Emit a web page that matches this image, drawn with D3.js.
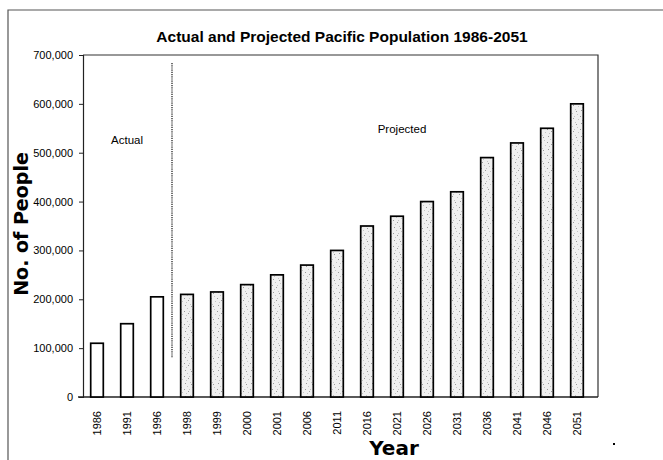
<!DOCTYPE html>
<html>
<head>
<meta charset="utf-8">
<script src="https://cdn.jsdelivr.net/npm/d3@7"></script>
<style>
  html, body { margin: 0; padding: 0; background: #fff; }
  svg { display: block; }
  text { font-family: "Liberation Sans", Arial, sans-serif; fill: #000; }
</style>
</head>
<body>
<svg id="chart" width="663" height="460"></svg>
<script>
// Census years and population (actual through 1996, projected afterwards)
const years = ["1986", "1991", "1996", "1998", "1999", "2000", "2001", "2006", "2011",
               "2016", "2021", "2026", "2031", "2036", "2041", "2046", "2051"];
const population = [110000, 150000, 205000, 210000, 215000, 230000, 250000, 270000, 300000,
                    350000, 370000, 400000, 420000, 490000, 520000, 550000, 600000];
const status = ["Actual", "Actual", "Actual", "Projected", "Projected", "Projected", "Projected",
                "Projected", "Projected", "Projected", "Projected", "Projected", "Projected",
                "Projected", "Projected", "Projected", "Projected"];
const yTicks = [0, 100000, 200000, 300000, 400000, 500000, 600000, 700000];

const svg = d3.select("#chart");

// Light grainy grey texture for projected bars
const defs = svg.append("defs");
const pat = defs.append("pattern")
  .attr("id", "stipple").attr("patternUnits", "userSpaceOnUse")
  .attr("width", 11).attr("height", 13);
pat.append("rect").attr("width", 11).attr("height", 13).attr("fill", "#f0f0f0");
[[1,1],[6,2],[3,5],[9,6],[0,9],[5,10],[8,12],[2,12],[10,3],[4,7]].forEach(([px, py], i) => {
  pat.append("rect").attr("x", px).attr("y", py).attr("width", 1).attr("height", 1)
    .attr("fill", i % 3 === 0 ? "#999" : "#c4c4c4");
});

// Outer frame
svg.append("path").attr("d", "M8,460V10H663")
  .attr("fill", "none").attr("stroke", "#555").attr("stroke-width", 1.2);

const plot = { left: 83, right: 598, top: 55, bottom: 397 };

const x = d3.scaleBand().domain(years).range([82, 592])
  .paddingInner(0.58).paddingOuter(0.29);
const y = d3.scaleLinear().domain([0, 700000]).range([plot.bottom, plot.top]);

// Plot border (top and right)
svg.append("path")
  .attr("d", `M${plot.left},${plot.top}H${plot.right}V${plot.bottom}`)
  .attr("fill", "none").attr("stroke", "#333").attr("stroke-width", 1.2);

// Y axis
const yAxis = svg.append("g").attr("transform", `translate(${plot.left},0)`)
  .call(d3.axisLeft(y).tickValues(yTicks).tickSize(4).tickPadding(6)
    .tickFormat(d => d3.format(",")(d)));
yAxis.select(".domain").attr("stroke", "#222").attr("stroke-width", 1.2);
yAxis.selectAll(".tick line").attr("stroke", "#222");
yAxis.selectAll("text").attr("font-size", 11);

// X axis (baseline) with rotated year labels
const xAxis = svg.append("g").attr("transform", `translate(0,${plot.bottom})`)
  .call(d3.axisBottom(x).tickSize(0).tickPadding(0));
xAxis.select(".domain").remove();
xAxis.selectAll("text")
  .attr("font-size", 11)
  .attr("transform", "rotate(-90)")
  .attr("text-anchor", "end")
  .attr("x", -14).attr("y", 0).attr("dy", "0.35em");
svg.append("line")
  .attr("x1", plot.left - 5).attr("x2", plot.right)
  .attr("y1", plot.bottom).attr("y2", plot.bottom)
  .attr("stroke", "#222").attr("stroke-width", 1.4);

// Bars
svg.append("g").selectAll("rect").data(years).join("rect")
  .attr("x", d => x(d))
  .attr("width", x.bandwidth())
  .attr("y", (d, i) => y(population[i]))
  .attr("height", (d, i) => y(0) - y(population[i]))
  .attr("fill", (d, i) => status[i] === "Projected" ? "url(#stipple)" : "#fff")
  .attr("stroke", "#000").attr("stroke-width", 1.7);

// Divider between actual and projected years
const divX = (x("1996") + x.bandwidth() / 2 + x("1998") + x.bandwidth() / 2) / 2;
svg.append("line")
  .attr("x1", divX).attr("x2", divX)
  .attr("y1", 63).attr("y2", 358)
  .attr("stroke", "#222").attr("stroke-width", 1.3)
  .attr("stroke-dasharray", "1.2,1");

// Section labels
svg.append("text").attr("x", 127).attr("y", 144).attr("text-anchor", "middle")
  .attr("font-size", 11.5).text("Actual");
svg.append("text").attr("x", 402).attr("y", 133).attr("text-anchor", "middle")
  .attr("font-size", 11.5).text("Projected");

// Title
svg.append("text").attr("x", 342).attr("y", 42).attr("text-anchor", "middle")
  .attr("font-size", 15.5).attr("font-weight", "bold")
  .text("Actual and Projected Pacific Population 1986-2051");

// Axis titles
svg.append("text")
  .attr("transform", "translate(28,224) rotate(-90)")
  .attr("text-anchor", "middle")
  .style("font-family", "'DejaVu Sans', sans-serif")
  .attr("font-size", 19).attr("font-weight", "bold")
  .text("No. of People");
svg.append("text").attr("x", 394).attr("y", 455).attr("text-anchor", "middle")
  .style("font-family", "'DejaVu Sans', sans-serif")
  .attr("font-size", 20).attr("font-weight", "bold")
  .text("Year");

// Small mark near the lower right corner
svg.append("rect").attr("x", 613).attr("y", 443).attr("width", 2).attr("height", 2).attr("fill", "#000");
</script>
</body>
</html>
